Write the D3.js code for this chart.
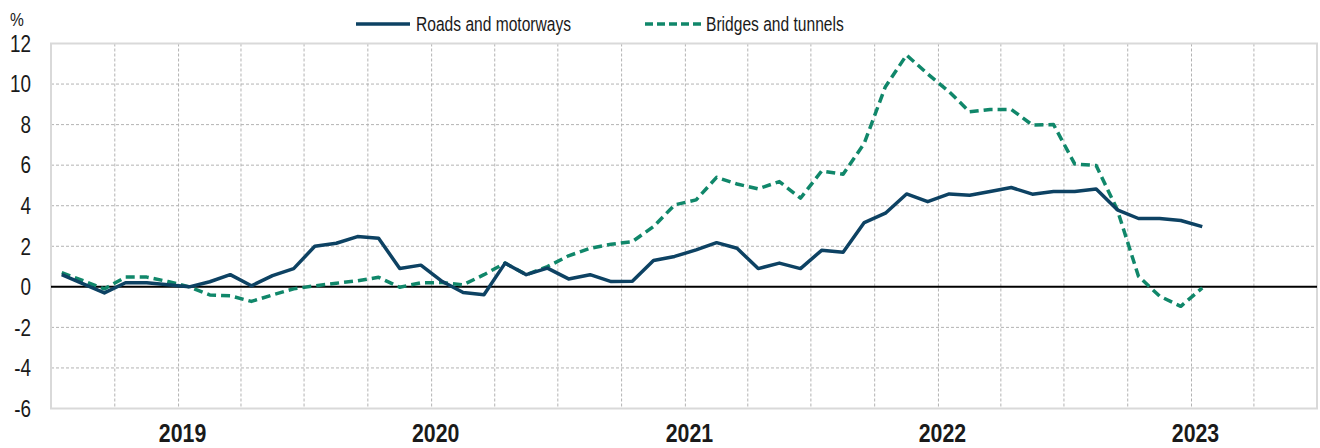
<!DOCTYPE html>
<html>
<head>
<meta charset="utf-8">
<script src="https://cdn.jsdelivr.net/npm/d3@7/dist/d3.min.js"></script>
<style>
  html, body { margin: 0; padding: 0; background: #ffffff; }
  svg { display: block; }
  text { font-family: "Liberation Sans", Arial, sans-serif; fill: #1a1a1a; }
</style>
</head>
<body>
<svg id="chart" width="1320" height="448"></svg>
<script>
// ---- data ----
const firstMonth = "2018-07";   // first monthly observation
const axisStart = "2018-07-01";
const axisEnd = "2023-07-01";
const seriesNames = ["Roads and motorways", "Bridges and tunnels"];
const roads = [0.6, 0.15, -0.3, 0.2, 0.2, 0.1, 0.0, 0.25, 0.6, 0.05, 0.55, 0.9,
  2.0, 2.15, 2.48, 2.4, 0.9, 1.07, 0.26, -0.28, -0.39, 1.17, 0.6, 0.92,
  0.39, 0.6, 0.26, 0.27, 1.3, 1.5, 1.82, 2.18, 1.9, 0.9, 1.17, 0.9,
  1.8, 1.7, 3.17, 3.63, 4.58, 4.2, 4.58, 4.52, 4.7, 4.9, 4.57, 4.7,
  4.7, 4.83, 3.8, 3.37, 3.37, 3.27, 2.97];
const bridges = [0.7, 0.3, -0.1, 0.48, 0.48, 0.26, 0.0, -0.4, -0.44, -0.72, -0.4, -0.1,
  0.05, 0.18, 0.3, 0.47, -0.02, 0.2, 0.21, 0.1, 0.6, 1.17, 0.6, 1.0,
  1.53, 1.9, 2.1, 2.23, 2.97, 4.04, 4.29, 5.4, 5.07, 4.83, 5.19, 4.37,
  5.71, 5.55, 7.08, 9.87, 11.43, 10.5, 9.62, 8.63, 8.75, 8.75, 7.98, 8.0,
  6.06, 5.98, 3.8, 0.52, -0.46, -0.96, -0.05];
const yTicks = [-6, -4, -2, 0, 2, 4, 6, 8, 10, 12];
const yearLabels = ["2019", "2020", "2021", "2022", "2023"];
const unitLabel = "%";

// ---- layout ----
const svg = d3.select("#chart");
const pLeft = 51, pRight = 1317, pTop = 43.5, pBottom = 408.5;
const colRoads = "#0d4263", colBridges = "#10876a";
const narrow = 0.82; // emulate a condensed (Arial Narrow-like) face

const parseM = d3.timeParse("%Y-%m");
const parseD = d3.timeParse("%Y-%m-%d");
const start = parseM(firstMonth);
const months = roads.map((_, i) => d3.timeMonth.offset(start, i));

const x = d3.scaleTime().domain([parseD(axisStart), parseD(axisEnd)]).range([pLeft, pRight]);
const y = d3.scaleLinear().domain([-6, 12]).range([pBottom, pTop]);
const xMid = d => (x(d) + x(d3.timeMonth.offset(d, 1))) / 2;

// horizontal grid
svg.append("g").selectAll("line").data(yTicks.filter(t => t !== 0 && t !== 12 && t !== -6)).join("line")
  .attr("x1", pLeft).attr("x2", pRight)
  .attr("y1", d => y(d)).attr("y2", d => y(d))
  .attr("stroke", "#b3b3b3").attr("stroke-width", 1).attr("stroke-dasharray", "3,2");

// vertical grid (quarterly)
const quarters = d3.timeMonth.every(3).range(d3.timeDay.offset(parseD(axisStart), 1), parseD(axisEnd));
svg.append("g").selectAll("line").data(quarters).join("line")
  .attr("x1", d => x(d)).attr("x2", d => x(d))
  .attr("y1", pTop).attr("y2", pBottom)
  .attr("stroke", "#b3b3b3").attr("stroke-width", 1).attr("stroke-dasharray", "3,2");

// plot border
svg.append("rect").attr("x", pLeft).attr("y", pTop).attr("width", pRight - pLeft).attr("height", pBottom - pTop)
  .attr("fill", "none").attr("stroke", "#d9d9d9").attr("stroke-width", 2);

// zero line
svg.append("line").attr("x1", pLeft).attr("x2", pRight).attr("y1", y(0)).attr("y2", y(0))
  .attr("stroke", "#000").attr("stroke-width", 2);

// y axis labels
svg.append("g").selectAll("text").data(yTicks).join("text")
  .attr("transform", d => `translate(31,${y(d)}) scale(${narrow},1)`)
  .attr("dy", "0.36em")
  .attr("text-anchor", "end").style("font-size", "23px")
  .text(d => d);
svg.append("text").attr("transform", `translate(10,26) scale(${narrow},1)`)
  .style("font-size", "19px").text(unitLabel);

// year labels
svg.append("g").selectAll("text").data(yearLabels).join("text")
  .attr("transform", d => `translate(${x(parseD(d + "-01-01")) + 4},442) scale(${narrow},1)`)
  .attr("text-anchor", "middle").style("font-size", "26px").style("font-weight", "bold")
  .text(d => d);

// lines
const line = d3.line().x((d, i) => xMid(months[i])).y(d => y(d));
svg.append("path").datum(bridges).attr("d", line)
  .attr("fill", "none").attr("stroke", colBridges).attr("stroke-width", 3.5)
  .attr("stroke-dasharray", "9,5").attr("stroke-linejoin", "round");
svg.append("path").datum(roads).attr("d", line)
  .attr("fill", "none").attr("stroke", colRoads).attr("stroke-width", 3.5)
  .attr("stroke-linejoin", "round");

// legend
const lg = svg.append("g");
lg.append("line").attr("x1", 356).attr("x2", 410).attr("y1", 24).attr("y2", 24)
  .attr("stroke", colRoads).attr("stroke-width", 3.5);
lg.append("text").attr("transform", `translate(416,31) scale(0.8,1)`)
  .style("font-size", "19.5px").text(seriesNames[0]);
lg.append("line").attr("x1", 645).attr("x2", 703).attr("y1", 24).attr("y2", 24)
  .attr("stroke", colBridges).attr("stroke-width", 3.5).attr("stroke-dasharray", "8,4");
lg.append("text").attr("transform", `translate(706,31) scale(0.8,1)`)
  .style("font-size", "19.5px").text(seriesNames[1]);
</script>
</body>
</html>
